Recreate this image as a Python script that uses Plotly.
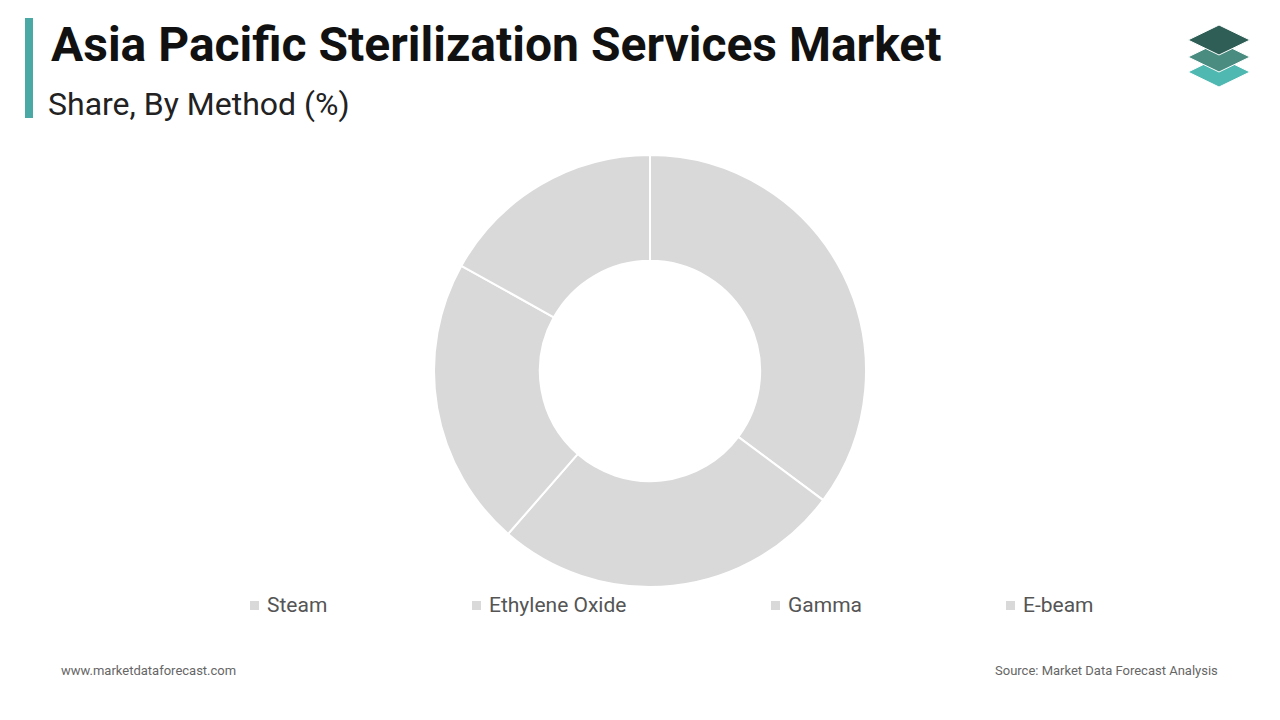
import plotly.graph_objects as go

labels = ["Steam", "Ethylene Oxide", "Gamma", "E-beam"]
values = [35.2, 26.2, 21.7, 16.9]
legend_x = [250, 472, 771, 1006]

W, H = 1280, 720
OX, OY = 8, 8  # page body margin offset
def px(x): return (x - OX) / W
def py(y): return 1 - (y - OY) / H

fig = go.Figure(go.Pie(
    labels=labels, values=values, hole=0.51, sort=False, direction="clockwise",
    rotation=0, marker=dict(colors=["#d9d9d9"] * 4, line=dict(color="white", width=2)),
    textinfo="none", hoverinfo="label+percent",
    domain=dict(x=[px(434), px(866)], y=[py(587), py(155)]),
    showlegend=False))

shapes = [dict(type="rect", xref="paper", yref="paper", x0=px(25), x1=px(33),
               y0=py(118), y1=py(18), fillcolor="#4aa9a4", line_width=0)]
ann = [
    dict(text="<b>Asia Pacific Sterilization Services Market</b>", x=px(49), y=py(44),
         font=dict(size=48, color="#111", family="Roboto"), xanchor="left", yanchor="middle"),
    dict(text="Share, By Method (%)", x=px(46), y=py(104),
         font=dict(size=32, color="#222", family="Roboto"), xanchor="left", yanchor="middle"),
    dict(text="www.marketdataforecast.com", x=px(59), y=py(670),
         font=dict(size=13, color="#666", family="Roboto"), xanchor="left", yanchor="middle"),
    dict(text="Source: Market Data Forecast Analysis", x=px(1220), y=py(670),
         font=dict(size=13, color="#666", family="Roboto"), xanchor="right", yanchor="middle"),
]
for lx, lab in zip(legend_x, labels):
    shapes.append(dict(type="rect", xref="paper", yref="paper", x0=px(lx), x1=px(lx + 9),
                       y0=py(610), y1=py(601), fillcolor="#d9d9d9", line_width=0))
    ann.append(dict(text=lab, x=px(lx + 15), y=py(605), xanchor="left", yanchor="middle",
                    font=dict(size=21, color="#555", family="Roboto")))
for a in ann:
    a.update(xref="paper", yref="paper", showarrow=False)

def diamond(cy, color):
    cx, hw, hh = 1219 - OX, 31, 15
    cy = cy - OY
    return dict(type="path", xref="x", yref="y",
                path=f"M{cx-hw},{cy} L{cx},{cy-hh} L{cx+hw},{cy} L{cx},{cy+hh} Z",
                fillcolor=color, line=dict(color="white", width=1))
for cy, c in [(72, "#4fb8b0"), (57, "#4a8c80"), (40, "#2e5e55")]:
    shapes.append(diamond(cy, c))

fig.update_layout(width=W, height=H, margin=dict(l=0, r=0, t=0, b=0),
                  paper_bgcolor="white", plot_bgcolor="white",
                  xaxis=dict(range=[0, W], visible=False, fixedrange=True),
                  yaxis=dict(range=[H, 0], visible=False, fixedrange=True),
                  shapes=shapes, annotations=ann)
fig.write_html("out.html")
